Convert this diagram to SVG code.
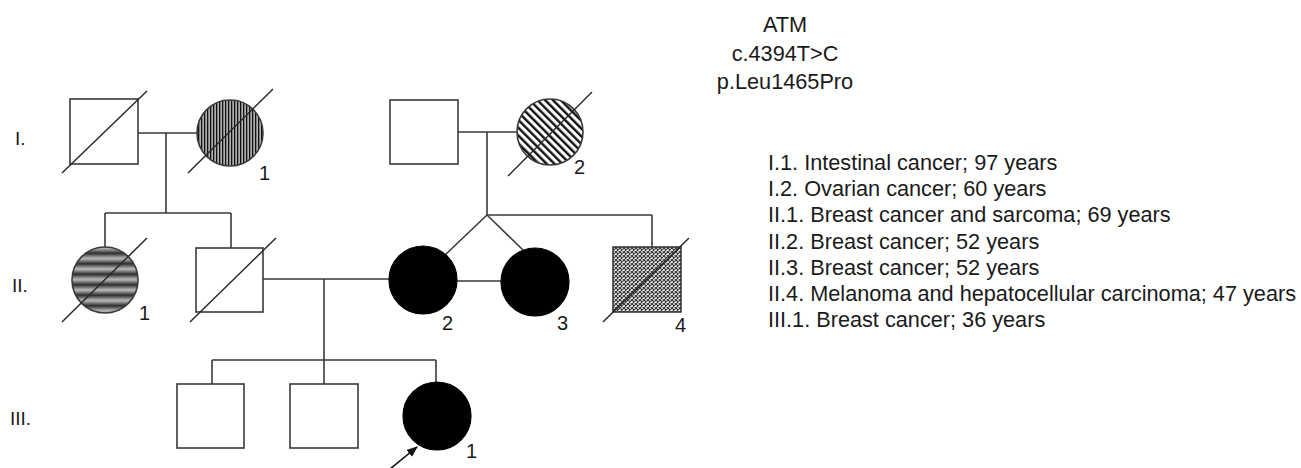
<svg xmlns="http://www.w3.org/2000/svg" width="1301" height="468" viewBox="0 0 1301 468">
<style>
.sym{fill:#fff;stroke:#3a3a3a;stroke-width:1.6}
.aff{fill:#000;stroke:#000;stroke-width:1.2}
.dec{stroke:#2a2a2a;stroke-width:1.5;fill:none}
.con{stroke:#3a3a3a;stroke-width:1.6;fill:none}
text{font-family:"Liberation Sans",Arial,sans-serif;fill:#1a1a1a}
.lab{font-size:20px}
.gen{font-size:19px}
.leg{font-size:21.7px}
</style>
<defs>
<pattern id="vstripe" width="3" height="10" patternUnits="userSpaceOnUse">
<rect width="3" height="10" fill="#b0b0b0"/>
<rect x="0" width="1.3" height="10" fill="#111"/>
</pattern>
<pattern id="dstripe" width="5.5" height="5.5" patternUnits="userSpaceOnUse" patternTransform="rotate(-45)">
<rect width="5.5" height="5.5" fill="#fff"/>
<rect width="2.4" height="5.5" fill="#111"/>
</pattern>
<linearGradient id="band" x1="0" y1="0" x2="0" y2="1">
<stop offset="0" stop-color="#bdbdbd"/>
<stop offset="0.5" stop-color="#2e2e2e"/>
<stop offset="1" stop-color="#bdbdbd"/>
</linearGradient>
<pattern id="hband" width="10" height="10.5" patternUnits="userSpaceOnUse" y="248">
<rect width="10" height="10.5" fill="url(#band)"/>
</pattern>
<pattern id="xhatch" width="4" height="4" patternUnits="userSpaceOnUse">
<rect width="4" height="4" fill="#fff"/>
<path d="M0,0L4,4M4,0L0,4" stroke="#333" stroke-width="1.2"/>
</pattern>
<marker id="arr" viewBox="0 0 10 10" refX="9" refY="5" markerWidth="7" markerHeight="7" orient="auto">
<path d="M0,1L10,5L0,9z" fill="#111"/>
</marker>
</defs>

<g id="generations">
<text class="gen" x="15" y="145">I.</text>
<text class="gen" x="12" y="292">II.</text>
<text class="gen" x="10" y="425">III.</text>
</g>

<g id="connectors">
<path class="con" d="M138,133H197M166,133V213M105,213H231M105,213V247M231,213V248"/>
<path class="con" d="M458,132H517M487,132V215M487,215H652M652,215V247"/>
<path class="con" d="M487,215L445,255M487,215L523,250M457,281H501"/>
<path class="con" d="M263,279H389M324,279V360M212,360H436M212,360V384M324,360V384M436,360V382"/>
</g>

<g id="I-1">
<rect class="sym" x="70" y="99" width="68" height="65"/>
<line class="dec" x1="62" y1="173" x2="147" y2="91"/>
</g>
<g id="I-2">
<circle class="sym" cx="230" cy="133" r="33" style="fill:url(#vstripe)"/>
<line class="dec" x1="188" y1="173" x2="273" y2="89"/>
<text class="lab" x="259" y="180">1</text>
</g>
<g id="I-3">
<rect class="sym" x="390" y="100" width="68" height="64"/>
</g>
<g id="I-4">
<circle class="sym" cx="550" cy="132" r="33" style="fill:url(#dstripe)"/>
<line class="dec" x1="508" y1="176" x2="592" y2="92"/>
<text class="lab" x="574" y="174">2</text>
</g>

<g id="II-1">
<circle class="sym" cx="105" cy="280" r="33" style="fill:url(#hband)"/>
<line class="dec" x1="62" y1="322" x2="147" y2="238"/>
<text class="lab" x="139" y="320">1</text>
</g>
<g id="II-2">
<rect class="sym" x="196" y="248" width="67" height="64"/>
<line class="dec" x1="190" y1="322" x2="276" y2="238"/>
</g>
<g id="II-3">
<circle class="aff" cx="423" cy="280" r="34"/>
<text class="lab" x="442" y="330">2</text>
</g>
<g id="II-4">
<circle class="aff" cx="535" cy="282" r="34"/>
<text class="lab" x="557" y="330">3</text>
</g>
<g id="II-5">
<rect class="sym" x="613" y="247" width="68" height="65" style="fill:url(#xhatch)"/>
<line class="dec" x1="603" y1="322" x2="689" y2="238"/>
<text class="lab" x="675" y="332">4</text>
</g>

<g id="III-1">
<rect class="sym" x="177" y="384" width="67" height="64"/>
</g>
<g id="III-2">
<rect class="sym" x="290" y="384" width="68" height="64"/>
</g>
<g id="III-3">
<circle class="aff" cx="437" cy="416" r="34"/>
<text class="lab" x="466" y="458">1</text>
<line stroke="#111" stroke-width="1.6" x1="390" y1="469" x2="417" y2="447" marker-end="url(#arr)"/>
</g>

<g id="variant">
<text class="leg" x="785" y="32" text-anchor="middle">ATM</text>
<text class="leg" x="785" y="61" text-anchor="middle">c.4394T&gt;C</text>
<text class="leg" x="785" y="89" text-anchor="middle">p.Leu1465Pro</text>
</g>

<g id="legend">
<text class="leg" x="768" y="170">I.1. Intestinal cancer; 97 years</text>
<text class="leg" x="768" y="196">I.2. Ovarian cancer; 60 years</text>
<text class="leg" x="768" y="222">II.1. Breast cancer and sarcoma; 69 years</text>
<text class="leg" x="768" y="249">II.2. Breast cancer; 52 years</text>
<text class="leg" x="768" y="275">II.3. Breast cancer; 52 years</text>
<text class="leg" x="768" y="301">II.4. Melanoma and hepatocellular carcinoma; 47 years</text>
<text class="leg" x="768" y="327">III.1. Breast cancer; 36 years</text>
</g>
</svg>
